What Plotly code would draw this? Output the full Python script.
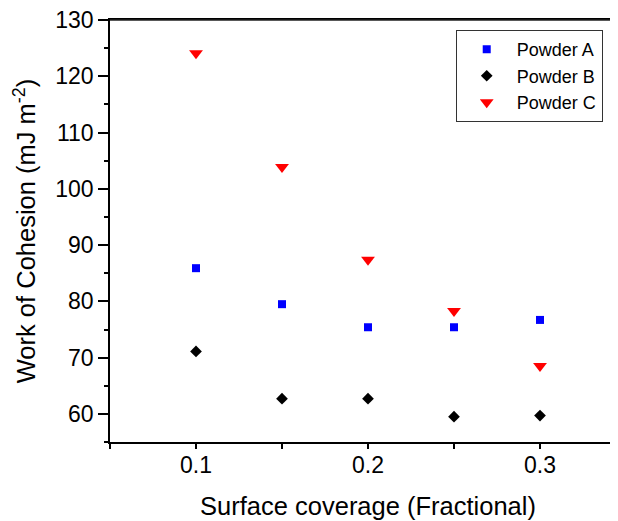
import plotly.graph_objects as go

coverage = [0.10, 0.15, 0.20, 0.25, 0.30]
powder_a = [85.9, 79.5, 75.4, 75.4, 76.7]
powder_b = [71.1, 62.7, 62.7, 59.5, 59.7]
powder_c = [124.1, 103.9, 87.4, 78.3, 68.5]
y_ticks = [60, 70, 80, 90, 100, 110, 120, 130]

FONT = "Liberation Sans, Arial, sans-serif"

fig = go.Figure()
fig.add_trace(go.Scatter(x=coverage, y=powder_a, mode="markers", name="Powder A",
                         marker=dict(symbol="square", size=8, color="#0000ff")))
fig.add_trace(go.Scatter(x=coverage, y=powder_b, mode="markers", name="Powder B",
                         marker=dict(symbol="diamond", size=9, color="#000000")))
fig.add_trace(go.Scatter(x=coverage, y=powder_c, mode="markers", name="Powder C",
                         marker=dict(symbol="triangle-down", size=12, color="#ff0000")))

# top frame line of the plot area
fig.add_shape(type="line", xref="paper", yref="paper", x0=0, x1=1, y0=1, y1=1,
              line=dict(color="#222222", width=1.5), layer="above")

fig.update_layout(
    width=618, height=521,
    margin=dict(l=102, r=0, t=12, b=87),
    paper_bgcolor="white", plot_bgcolor="white",
    font=dict(family=FONT, color="black"),
    showlegend=True,
    legend=dict(x=0.67, y=0.976, xanchor="left", yanchor="top",
                bordercolor="#333333", borderwidth=1, bgcolor="white",
                font=dict(size=18, family=FONT), itemwidth=50),
    xaxis=dict(range=[0.05, 0.35], tick0=0.1, dtick=0.1, tickformat=".1f",
               showline=True, linecolor="black", linewidth=1.5, mirror=True,
               ticks="outside", ticklen=5, tickwidth=1.5, tickcolor="black",
               ticklabelstandoff=-3, ticklabeloverflow="allow",
               minor=dict(dtick=0.05, tick0=0.1, ticks="outside", ticklen=5, tickwidth=1.5, tickcolor="black"),
               showgrid=False, zeroline=False,
               tickfont=dict(size=23, family=FONT),
               title=dict(text="Surface coverage (Fractional)", font=dict(size=25.5, family=FONT), standoff=20)),
    yaxis=dict(range=[55, 130.02], tickmode="array", tickvals=y_ticks,
               showline=True, linecolor="black", linewidth=1.5, mirror=False,
               ticks="outside", ticklen=10, tickwidth=1.5, tickcolor="black",
               ticklabeloverflow="allow",
               minor=dict(dtick=5, tick0=0, ticks="outside", ticklen=4, tickwidth=1.5, tickcolor="black"),
               showgrid=False, zeroline=False,
               tickfont=dict(size=23, family=FONT),
               title=dict(text="Work of Cohesion (mJ m<sup>-2</sup>)", font=dict(size=25.5, family=FONT), standoff=12)),
)

fig.write_html("out.html")
